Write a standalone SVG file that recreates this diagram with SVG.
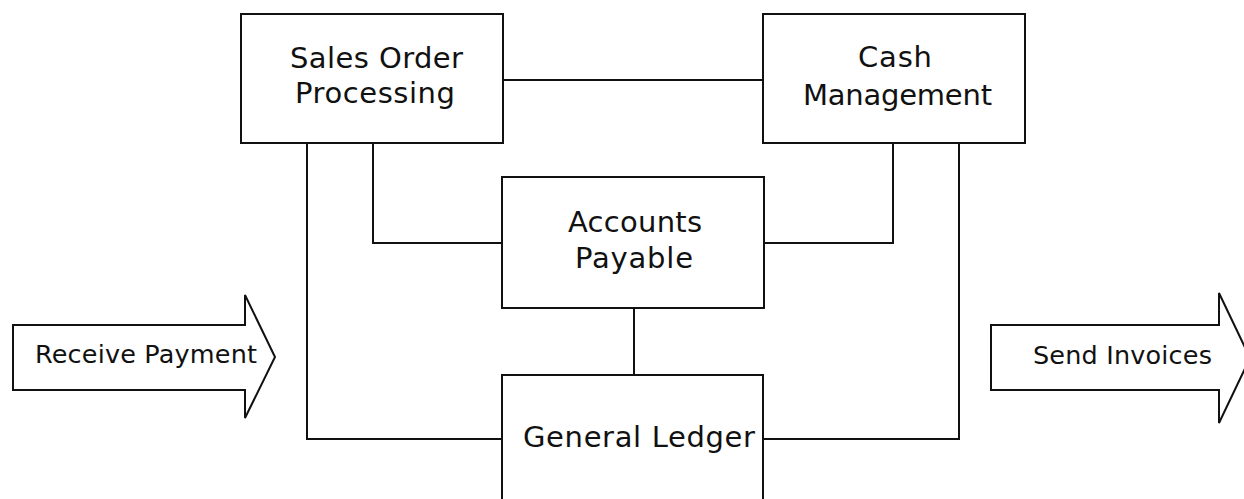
<svg xmlns="http://www.w3.org/2000/svg" width="1244" height="499" viewBox="0 0 1244 499">
<style>
.box{fill:#fff;stroke:#111;stroke-width:2}
.ln{fill:none;stroke:#111;stroke-width:2}
.t{font-family:"DejaVu Sans",Verdana,sans-serif;font-size:29px;fill:#111}
.a{font-family:"DejaVu Sans",Verdana,sans-serif;font-size:25.5px;fill:#111}
</style>
<rect width="1244" height="499" fill="#fff"/>
<g id="connectors">
<path class="ln" d="M503,80 H763"/>
<path class="ln" d="M373,143 V243 H502"/>
<path class="ln" d="M893,143 V243 H764"/>
<path class="ln" d="M634,308 V375"/>
<path class="ln" d="M307,143 V439 H502"/>
<path class="ln" d="M959,143 V439 H763"/>
</g>
<g id="sales-order">
<rect class="box" x="241" y="14" width="262" height="129"/>
<text class="t" x="290" y="68" textLength="173" lengthAdjust="spacing">Sales Order</text>
<text class="t" x="295" y="103" textLength="160" lengthAdjust="spacing">Processing</text>
</g>
<g id="cash-management">
<rect class="box" x="763" y="14" width="262" height="129"/>
<text class="t" x="858" y="67" textLength="74" lengthAdjust="spacing">Cash</text>
<text class="t" x="803" y="105" textLength="189" lengthAdjust="spacing">Management</text>
</g>
<g id="accounts-payable">
<rect class="box" x="502" y="177" width="262" height="131"/>
<text class="t" x="568" y="232" textLength="134" lengthAdjust="spacing">Accounts</text>
<text class="t" x="575" y="268" textLength="118" lengthAdjust="spacing">Payable</text>
</g>
<g id="general-ledger">
<rect class="box" x="502" y="375" width="261" height="140"/>
<text class="t" x="523" y="447" textLength="232" lengthAdjust="spacing">General Ledger</text>
</g>
<g id="receive-payment">
<polygon class="box" points="13,325 245,325 245,295 275,357 245,418 245,390 13,390"/>
<text class="a" x="35" y="363" textLength="222" lengthAdjust="spacing">Receive Payment</text>
</g>
<g id="send-invoices">
<polygon class="box" points="991,325 1219,325 1219,293 1250,358 1219,423 1219,390 991,390"/>
<text class="a" x="1033" y="364" textLength="179" lengthAdjust="spacing">Send Invoices</text>
</g>
</svg>
